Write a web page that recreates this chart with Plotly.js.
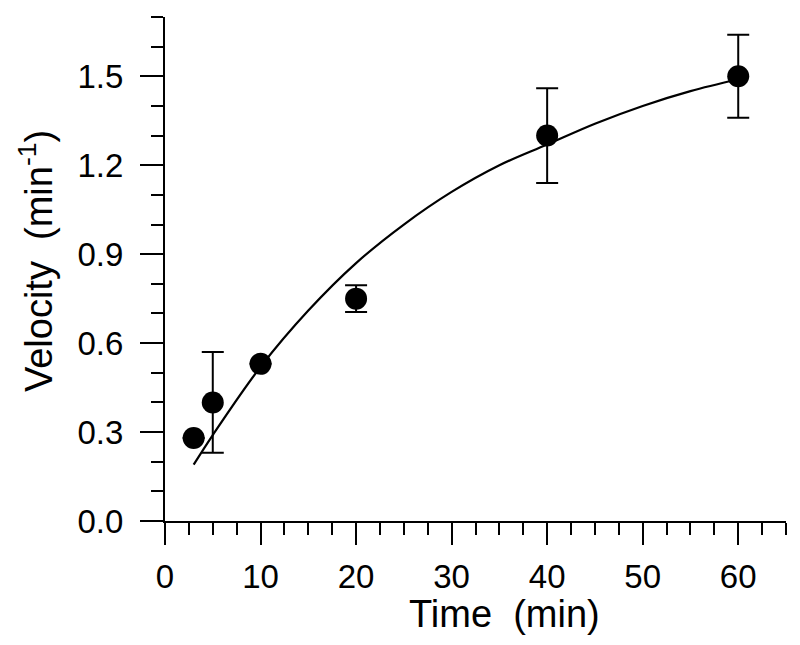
<!DOCTYPE html>
<html>
<head>
<meta charset="utf-8">
<script src="https://cdn.plot.ly/plotly-3.0.1.min.js"></script>
<style>html,body{margin:0;padding:0;background:#fff;}#chart{width:800px;height:645px;}</style>
</head>
<body>
<div id="chart"></div>
<script>
// Measured data
var timeMin = [3, 5, 10, 20, 40, 60];
var velocity = [0.28, 0.40, 0.53, 0.75, 1.30, 1.50];
var velocityErr = [0, 0.17, 0, 0.045, 0.16, 0.14];

// Fitted curve
var fitTime = [3, 5, 10, 15, 20, 25, 30, 35, 40, 45, 50, 55, 60];
var fitVelocity = [0.19, 0.29, 0.52, 0.71, 0.87, 1.00, 1.11, 1.20, 1.27, 1.34, 1.40, 1.45, 1.49];

var xTickVals = [0, 10, 20, 30, 40, 50, 60];
var yTickVals = [0.0, 0.3, 0.6, 0.9, 1.2, 1.5];
var yTickText = ['0.0', '0.3', '0.6', '0.9', '1.2', '1.5'];
var xTitle = 'Time  (min)';
var yTitle = 'Velocity  (min<sup>-1</sup>)';

var font = 'Liberation Sans, Arial, sans-serif';

var traces = [
  {
    x: fitTime, y: fitVelocity, type: 'scatter', mode: 'lines',
    line: {color: '#000', width: 2.2, shape: 'spline'},
    hoverinfo: 'skip', showlegend: false
  },
  {
    x: timeMin, y: velocity, type: 'scatter', mode: 'markers',
    marker: {color: '#000', size: 22, symbol: 'circle'},
    error_y: {type: 'data', array: velocityErr, visible: true, color: '#000', thickness: 2, width: 11},
    showlegend: false
  }
];

var layout = {
  width: 800, height: 645,
  margin: {l: 165, r: 14, t: 17, b: 124},
  paper_bgcolor: '#fff', plot_bgcolor: '#fff',
  font: {family: font, color: '#000', size: 33},
  showlegend: false,
  xaxis: {
    range: [0, 65], showgrid: false, zeroline: false,
    showline: true, linecolor: '#000', linewidth: 2,
    ticks: 'outside', ticklen: 22, tickwidth: 2, tickcolor: '#000',
    tickmode: 'array', tickvals: xTickVals,
    tickfont: {family: font, size: 33, color: '#000'},
    ticklabelstandoff: 3,
    minor: {dtick: 2.5, ticks: 'outside', ticklen: 12, tickwidth: 2, tickcolor: '#000', showgrid: false}
  },
  yaxis: {
    range: [0, 1.7], showgrid: false, zeroline: false,
    showline: true, linecolor: '#000', linewidth: 2,
    ticks: 'outside', ticklen: 23, tickwidth: 2, tickcolor: '#000',
    tickmode: 'array', tickvals: yTickVals, ticktext: yTickText,
    tickfont: {family: font, size: 33, color: '#000'},
    ticklabelstandoff: 10,
    minor: {dtick: 0.1, ticks: 'outside', ticklen: 12, tickwidth: 2, tickcolor: '#000', showgrid: false}
  },
  annotations: [
    {text: xTitle, xref: 'paper', yref: 'paper', x: 0.5466, y: -0.1845,
     xanchor: 'center', yanchor: 'middle', showarrow: false,
     font: {family: font, size: 38, color: '#000'}},
    {text: yTitle, xref: 'paper', yref: 'paper', x: -0.2075, y: 0.516,
     xanchor: 'center', yanchor: 'middle', showarrow: false, textangle: -90,
     font: {family: font, size: 38, color: '#000'}}
  ]
};

Plotly.newPlot('chart', traces, layout, {staticPlot: true, displayModeBar: false});
</script>
</body>
</html>
